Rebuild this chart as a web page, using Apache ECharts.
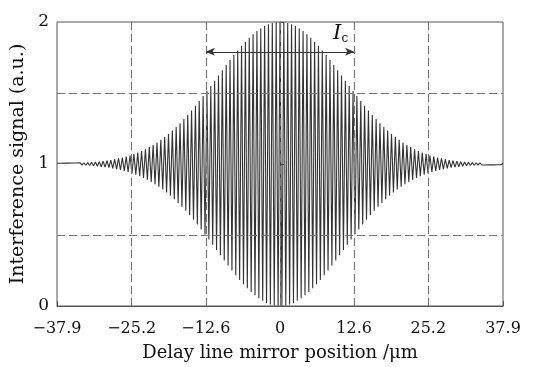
<!DOCTYPE html>
<html>
<head>
<meta charset="utf-8">
<script src="https://cdn.jsdelivr.net/npm/echarts@6/dist/echarts.min.js"></script>
<style>
html, body { margin: 0; padding: 0; background: #fff; }
#main { width: 534px; height: 367px; }
</style>
</head>
<body>
<div id="main"></div>
<script>
// tick labels on the x axis (ends are the axis limits)
var xTickValues = [-37.9, -25.2, -12.6, 0, 12.6, 25.2, 37.9];
// dashed guide lines
var gridXValues = [-25.2, -12.6, 0, 12.6, 25.2];
var gridYValues = [0.5, 1.5];
// coherence length arrow (I_c)
var coherenceFrom = -12.6;
var coherenceTo = 12.6;
var coherenceLevel = 1.79;

// fringe extrema, left to right, evenly spaced
var xStart = -37.9;
var xStep = 75.8 / 232;
var signalExtrema = [
    1.005,0.995,1.005,0.995,1.006,0.994,
    1.006,0.994,1.007,0.993,1.007,0.993,1.008,0.992,1.009,0.991,
    1.010,0.989,1.012,0.987,1.014,0.984,1.017,0.981,1.020,0.978,
    1.024,0.974,1.028,0.970,1.033,0.964,1.039,0.958,1.045,0.951,
    1.052,0.944,1.060,0.935,1.070,0.925,1.080,0.914,1.092,0.902,
    1.104,0.889,1.119,0.874,1.134,0.857,1.151,0.840,1.170,0.820,
    1.190,0.799,1.212,0.776,1.235,0.752,1.261,0.726,1.287,0.699,
    1.316,0.670,1.346,0.639,1.377,0.607,1.410,0.574,1.443,0.539,
    1.478,0.504,1.514,0.468,1.550,0.432,1.587,0.395,1.624,0.358,
    1.660,0.321,1.697,0.286,1.732,0.250,1.767,0.216,1.800,0.184,
    1.832,0.153,1.861,0.125,1.889,0.099,1.914,0.075,1.936,0.054,
    1.955,0.037,1.971,0.022,1.984,0.011,1.993,0.004,1.998,0.001,
    2.000,
    0.001,1.998,0.004,1.993,0.011,1.984,0.022,1.971,0.037,1.955,
    0.054,1.936,0.075,1.914,0.099,1.889,0.125,1.861,0.153,1.832,
    0.184,1.800,0.216,1.767,0.250,1.732,0.286,1.697,0.321,1.660,
    0.358,1.624,0.395,1.587,0.432,1.550,0.468,1.514,0.504,1.478,
    0.539,1.443,0.574,1.410,0.607,1.377,0.639,1.346,0.670,1.316,
    0.699,1.287,0.726,1.261,0.752,1.235,0.776,1.212,0.799,1.190,
    0.820,1.170,0.840,1.151,0.857,1.134,0.874,1.119,0.889,1.104,
    0.902,1.092,0.914,1.080,0.925,1.070,0.935,1.060,0.944,1.052,
    0.951,1.045,0.958,1.039,0.964,1.033,0.970,1.028,0.974,1.024,
    0.978,1.020,0.981,1.017,0.984,1.014,0.987,1.012,0.989,1.010,
    0.991,1.009,0.992,1.008,0.993,1.007,0.993,1.007,0.994,1.006,
    0.994,1.006,0.995,1.005,0.995,1.005
];

var serif = '"DejaVu Serif", "Liberation Serif", serif';

var signalData = [];
for (var i = 0; i < signalExtrema.length; i++) {
    signalData.push([xStart + i * xStep, signalExtrema[i]]);
}

var guideLines = [];
for (var i in gridXValues) {
    guideLines.push({ xAxis: gridXValues[i] });
}
for (var i in gridYValues) {
    guideLines.push({ yAxis: gridYValues[i] });
}

function fmtX(v) {
    var s = String(Math.round(v * 10) / 10);
    return s.charAt(0) == '-' ? '\u2212' + s.slice(1) : s;
}

var myChart = echarts.init(document.getElementById('main'));
var option = {
    animation: false,
    backgroundColor: '#fff',
    grid: {
        left: 57,
        right: 31,
        top: 22,
        bottom: 58,
        show: true,
        borderColor: '#555',
        borderWidth: 1
    },
    xAxis: {
        type: 'value',
        min: -37.9,
        max: 37.9,
        name: 'Delay line mirror position /\u03bcm',
        nameLocation: 'middle',
        nameGap: 38,
        nameTextStyle: { fontFamily: serif, fontSize: 18, color: '#111' },
        axisLine: { lineStyle: { color: '#555' } },
        axisTick: { inside: true, length: 5, customValues: xTickValues, lineStyle: { color: '#555' } },
        axisLabel: {
            customValues: xTickValues,
            margin: 15,
            fontFamily: serif,
            fontSize: 16,
            color: '#111',
            formatter: fmtX
        },
        splitLine: { show: false }
    },
    yAxis: {
        type: 'value',
        min: 0,
        max: 2,
        interval: 0.5,
        name: 'Interference signal (a.u.)',
        nameLocation: 'middle',
        nameGap: 20,
        nameTextStyle: { fontFamily: serif, fontSize: 19, color: '#111' },
        axisLine: { lineStyle: { color: '#555' } },
        axisTick: { inside: true, length: 4, lineStyle: { color: '#555' } },
        axisLabel: {
            margin: 8,
            fontFamily: serif,
            fontSize: 17,
            color: '#111',
            formatter: function(v) {
                return v % 1 === 0 ? String(v) : '';
            }
        },
        splitLine: { show: false }
    },
    series: [
        {
            name: 'signal',
            type: 'line',
            data: signalData,
            showSymbol: false,
            symbol: 'none',
            silent: true,
            lineStyle: { color: '#333', width: 1.1 },
            z: 2
        },
        {
            name: 'guides',
            type: 'line',
            data: [],
            silent: true,
            z: 5,
            markLine: {
                silent: true,
                symbol: ['none', 'none'],
                label: { show: false },
                lineStyle: { color: '#777', type: [8, 4], width: 1.2 },
                emphasis: { disabled: true },
                data: guideLines
            }
        },
        {
            name: 'coherence',
            type: 'line',
            data: [],
            silent: true,
            z: 6,
            markLine: {
                silent: true,
                symbol: ['arrow', 'arrow'],
                symbolSize: [6, 9],
                label: { show: false },
                lineStyle: { color: '#333', type: 'solid', width: 1 },
                emphasis: { disabled: true },
                data: [[
                    { coord: [coherenceFrom, coherenceLevel] },
                    { coord: [coherenceTo, coherenceLevel] }
                ]]
            },
            markPoint: {
                silent: true,
                symbol: 'circle',
                symbolSize: 0,
                label: {
                    show: true,
                    position: 'inside',
                    formatter: '{i|I}{s|c}',
                    rich: {
                        i: { fontFamily: serif, fontStyle: 'italic', fontSize: 21, color: '#111' },
                        s: { fontFamily: serif, fontSize: 12, color: '#111', padding: [12, 0, 0, 0] }
                    }
                },
                data: [{ coord: [10.3, 1.92] }]
            }
        }
    ]
};
myChart.setOption(option);
</script>
</body>
</html>
